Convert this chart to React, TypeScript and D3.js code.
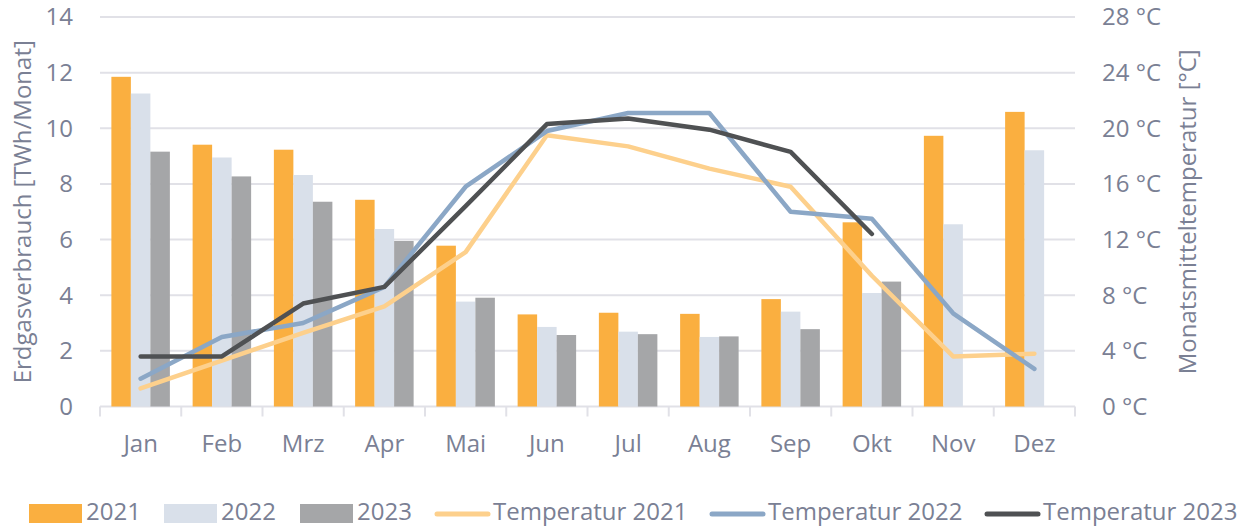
import React, { useEffect, useRef } from 'react'
import * as d3 from 'd3'

const months = ['Jan', 'Feb', 'Mrz', 'Apr', 'Mai', 'Jun', 'Jul', 'Aug', 'Sep', 'Okt', 'Nov', 'Dez']
const years = ['2021', '2022', '2023']

// Erdgasverbrauch TWh/Monat
const gas2021 = [11.85, 9.41, 9.23, 7.43, 5.78, 3.31, 3.37, 3.33, 3.86, 6.62, 9.73, 10.59]
const gas2022 = [11.25, 8.95, 8.32, 6.38, 3.77, 2.86, 2.69, 2.5, 3.41, 4.08, 6.55, 9.21]
const gas2023 = [9.16, 8.27, 7.36, 5.95, 3.91, 2.57, 2.6, 2.52, 2.78, 4.49]

// Monatsmitteltemperatur °C
const temp2021 = [1.3, 3.3, 5.3, 7.2, 11.1, 19.5, 18.7, 17.1, 15.8, 9.4, 3.6, 3.8]
const temp2022 = [2.0, 5.0, 6.0, 8.6, 15.8, 19.8, 21.1, 21.1, 14.0, 13.5, 6.7, 2.7]
const temp2023 = [3.6, 3.6, 7.4, 8.6, 14.4, 20.3, 20.7, 19.9, 18.3, 12.4]

const leftTicks = [0, 2, 4, 6, 8, 10, 12, 14]
const rightTicks = [0, 4, 8, 12, 16, 20, 24, 28]

const barColors = ['#FAAF40', '#D9E0EA', '#A5A6A8']
const lineColors = ['#FDD08C', '#8BA7C6', '#4F5153']
const textColor = '#7A8094'
const gridColor = '#E1E1E7'
const FONT = '"Open Sans", sans-serif'

const width = 1241
const height = 526
const margin = { top: 17, right: 166, bottom: 120, left: 100 }

export default function App() {
    const svgRef = useRef<SVGSVGElement | null>(null)

    useEffect(() => {
        const svg = d3.select(svgRef.current)
        svg.selectAll('*').remove()

        const x0 = margin.left
        const x1 = width - margin.right
        const yBottom = height - margin.bottom + 0.5

        const xScale = d3.scaleBand().domain(months).range([x0, x1]).paddingInner(0.28).paddingOuter(0.14)
        const xYear = d3.scaleBand().domain(years).range([0, xScale.bandwidth()])
        const yLeft = d3.scaleLinear().domain([0, 14]).range([yBottom, margin.top])
        const yRight = d3.scaleLinear().domain([0, 28]).range([yBottom, margin.top])

        // gridlines
        svg.append('g')
            .selectAll('line')
            .data(leftTicks)
            .join('line')
            .attr('x1', x0)
            .attr('x2', x1)
            .attr('y1', d => yLeft(d))
            .attr('y2', d => yLeft(d))
            .attr('stroke', gridColor)
            .attr('stroke-width', 2)

        // category tick marks
        const step = xScale.step()
        svg.append('g')
            .selectAll('line')
            .data(d3.range(months.length + 1))
            .join('line')
            .attr('x1', i => x0 + i * step)
            .attr('x2', i => x0 + i * step)
            .attr('y1', yBottom)
            .attr('y2', yBottom + 10)
            .attr('stroke', gridColor)
            .attr('stroke-width', 2)

        // bars
        const gasSeries = [gas2021, gas2022, gas2023]
        gasSeries.forEach((series, s) => {
            svg.append('g')
                .selectAll('rect')
                .data(series)
                .join('rect')
                .attr('x', (_, i) => xScale(months[i])! + xYear(years[s])!)
                .attr('y', d => yLeft(d))
                .attr('width', xYear.bandwidth())
                .attr('height', d => yBottom - yLeft(d))
                .attr('fill', barColors[s])
        })

        // temperature lines
        const line = d3
            .line<number>()
            .x((_, i) => xScale(months[i])! + xScale.bandwidth() / 2)
            .y(d => yRight(d))
        ;[temp2021, temp2022, temp2023].forEach((series, s) => {
            svg.append('path')
                .datum(series)
                .attr('d', line)
                .attr('fill', 'none')
                .attr('stroke', lineColors[s])
                .attr('stroke-width', 4.5)
                .attr('stroke-linejoin', 'round')
                .attr('stroke-linecap', 'round')
        })

        // left axis labels
        svg.append('g')
            .selectAll('text')
            .data(leftTicks)
            .join('text')
            .attr('x', 73)
            .attr('y', d => yLeft(d))
            .attr('dy', '0.35em')
            .attr('text-anchor', 'end')
            .text(d => d)

        // right axis labels
        svg.append('g')
            .selectAll('text')
            .data(rightTicks)
            .join('text')
            .attr('x', 1102)
            .attr('y', d => yRight(d))
            .attr('dy', '0.35em')
            .text(d => `${d} °C`)

        // month labels
        svg.append('g')
            .selectAll('text')
            .data(months)
            .join('text')
            .attr('x', d => xScale(d)! + xScale.bandwidth() / 2)
            .attr('y', 452)
            .attr('text-anchor', 'middle')
            .text(d => d)

        // axis titles
        svg.append('text')
            .attr('transform', `translate(31, ${(margin.top + yBottom) / 2}) rotate(-90)`)
            .attr('text-anchor', 'middle')
            .text('Erdgasverbrauch [TWh/Monat]')
        svg.append('text')
            .attr('transform', `translate(1196, ${(margin.top + yBottom) / 2}) rotate(-90)`)
            .attr('text-anchor', 'middle')
            .text('Monatsmitteltemperatur [°C]')

        // legend
        const legend = svg.append('g')
        const barLegendX = [29, 164, 300]
        years.forEach((yr, s) => {
            legend.append('rect')
                .attr('x', barLegendX[s])
                .attr('y', 504)
                .attr('width', 53)
                .attr('height', 19)
                .attr('fill', barColors[s])
            legend.append('text')
                .attr('x', barLegendX[s] + 57)
                .attr('y', 520)
                .text(yr)
        })
        const lineLegendX = [435, 710, 985]
        years.forEach((yr, s) => {
            legend.append('line')
                .attr('x1', lineLegendX[s] + 2)
                .attr('x2', lineLegendX[s] + 53)
                .attr('y1', 514)
                .attr('y2', 514)
                .attr('stroke', lineColors[s])
                .attr('stroke-width', 5)
                .attr('stroke-linecap', 'round')
            legend.append('text')
                .attr('x', lineLegendX[s] + 58)
                .attr('y', 520)
                .text(`Temperatur ${yr}`)
        })

        svg.selectAll('text')
            .attr('fill', textColor)
            .attr('font-family', FONT)
            .attr('font-size', 24)
    }, [])

    return (
        <svg ref={svgRef} width={width} height={height} style={{ position: 'absolute', left: 0, top: 0 }} />
    )
}
